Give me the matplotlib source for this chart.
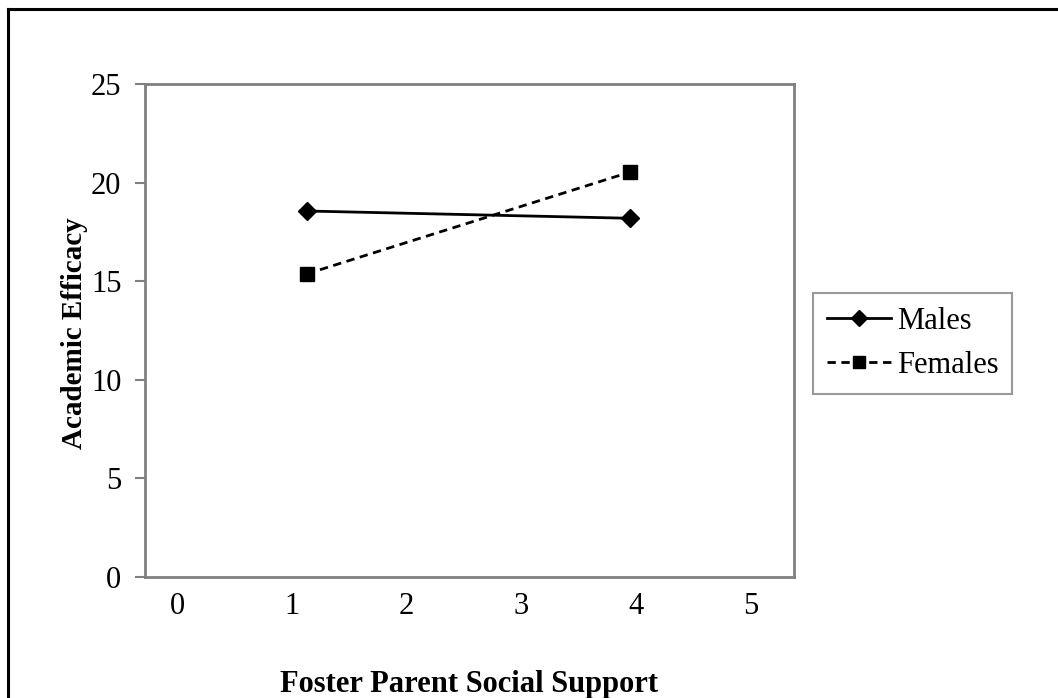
import matplotlib
matplotlib.use("Agg")
import matplotlib.pyplot as plt
from matplotlib.lines import Line2D

plt.rcParams['font.family'] = ['Liberation Serif', 'DejaVu Serif']

# Data
support_levels = [1.13, 3.95]
males = [18.56, 18.19]
females = [15.37, 20.54]
x_ticks = [0, 1, 2, 3, 4, 5]
y_ticks = [0, 5, 10, 15, 20, 25]

W, H = 1058, 698
fig = plt.figure(figsize=(W / 100, H / 100), dpi=100)
ax = fig.add_axes([145 / W, 1 - 577 / H, (794 - 145) / W, (577 - 84) / H])

ax.plot(support_levels, males, color='black', linestyle='-', linewidth=2,
        marker='D', markersize=9.5, label='Males')
ax.plot(support_levels, females, color='black', linestyle=(0, (3, 2)), linewidth=2,
        marker='s', markersize=10, label='Females')

ax.set_xlim(-0.279, 5.375)
ax.set_ylim(0, 25)
ax.set_xticks(x_ticks)
ax.set_yticks(y_ticks)
ax.tick_params(axis='x', length=0, labelsize=22, pad=11)
ax.tick_params(axis='y', length=7, width=1.5, color='#808080', labelsize=22, pad=10)
for s in ax.spines.values():
    s.set_color('#808080')
    s.set_linewidth(2)

fig.text(469.5 / W, 1 - 692 / H, 'Foster Parent Social Support', fontsize=22,
         fontweight='bold', ha='center', va='baseline')
fig.text(75 / W, 1 - 333 / H, 'Academic Efficacy', fontsize=21, fontweight='bold',
         ha='center', va='center', rotation=90)

leg = ax.legend(loc='upper left', bbox_to_anchor=(813 / W, 1 - 293 / H),
                bbox_transform=fig.transFigure, fontsize=22, frameon=True,
                fancybox=False, edgecolor='#808080', handlelength=2.1,
                handletextpad=0.2, borderpad=0.45, labelspacing=0.5,
                borderaxespad=0, markerscale=0.85)
leg.get_frame().set_linewidth(1.5)

# Outer frame (top and left edges visible)
fig.add_artist(Line2D([8 / W, 1.0], [1 - 9 / H, 1 - 9 / H], transform=fig.transFigure,
                      color='black', linewidth=2.2))
fig.add_artist(Line2D([8 / W, 8 / W], [1 - 9 / H, 0.0], transform=fig.transFigure,
                      color='black', linewidth=2.2))

fig.savefig('out.png', dpi=100)
